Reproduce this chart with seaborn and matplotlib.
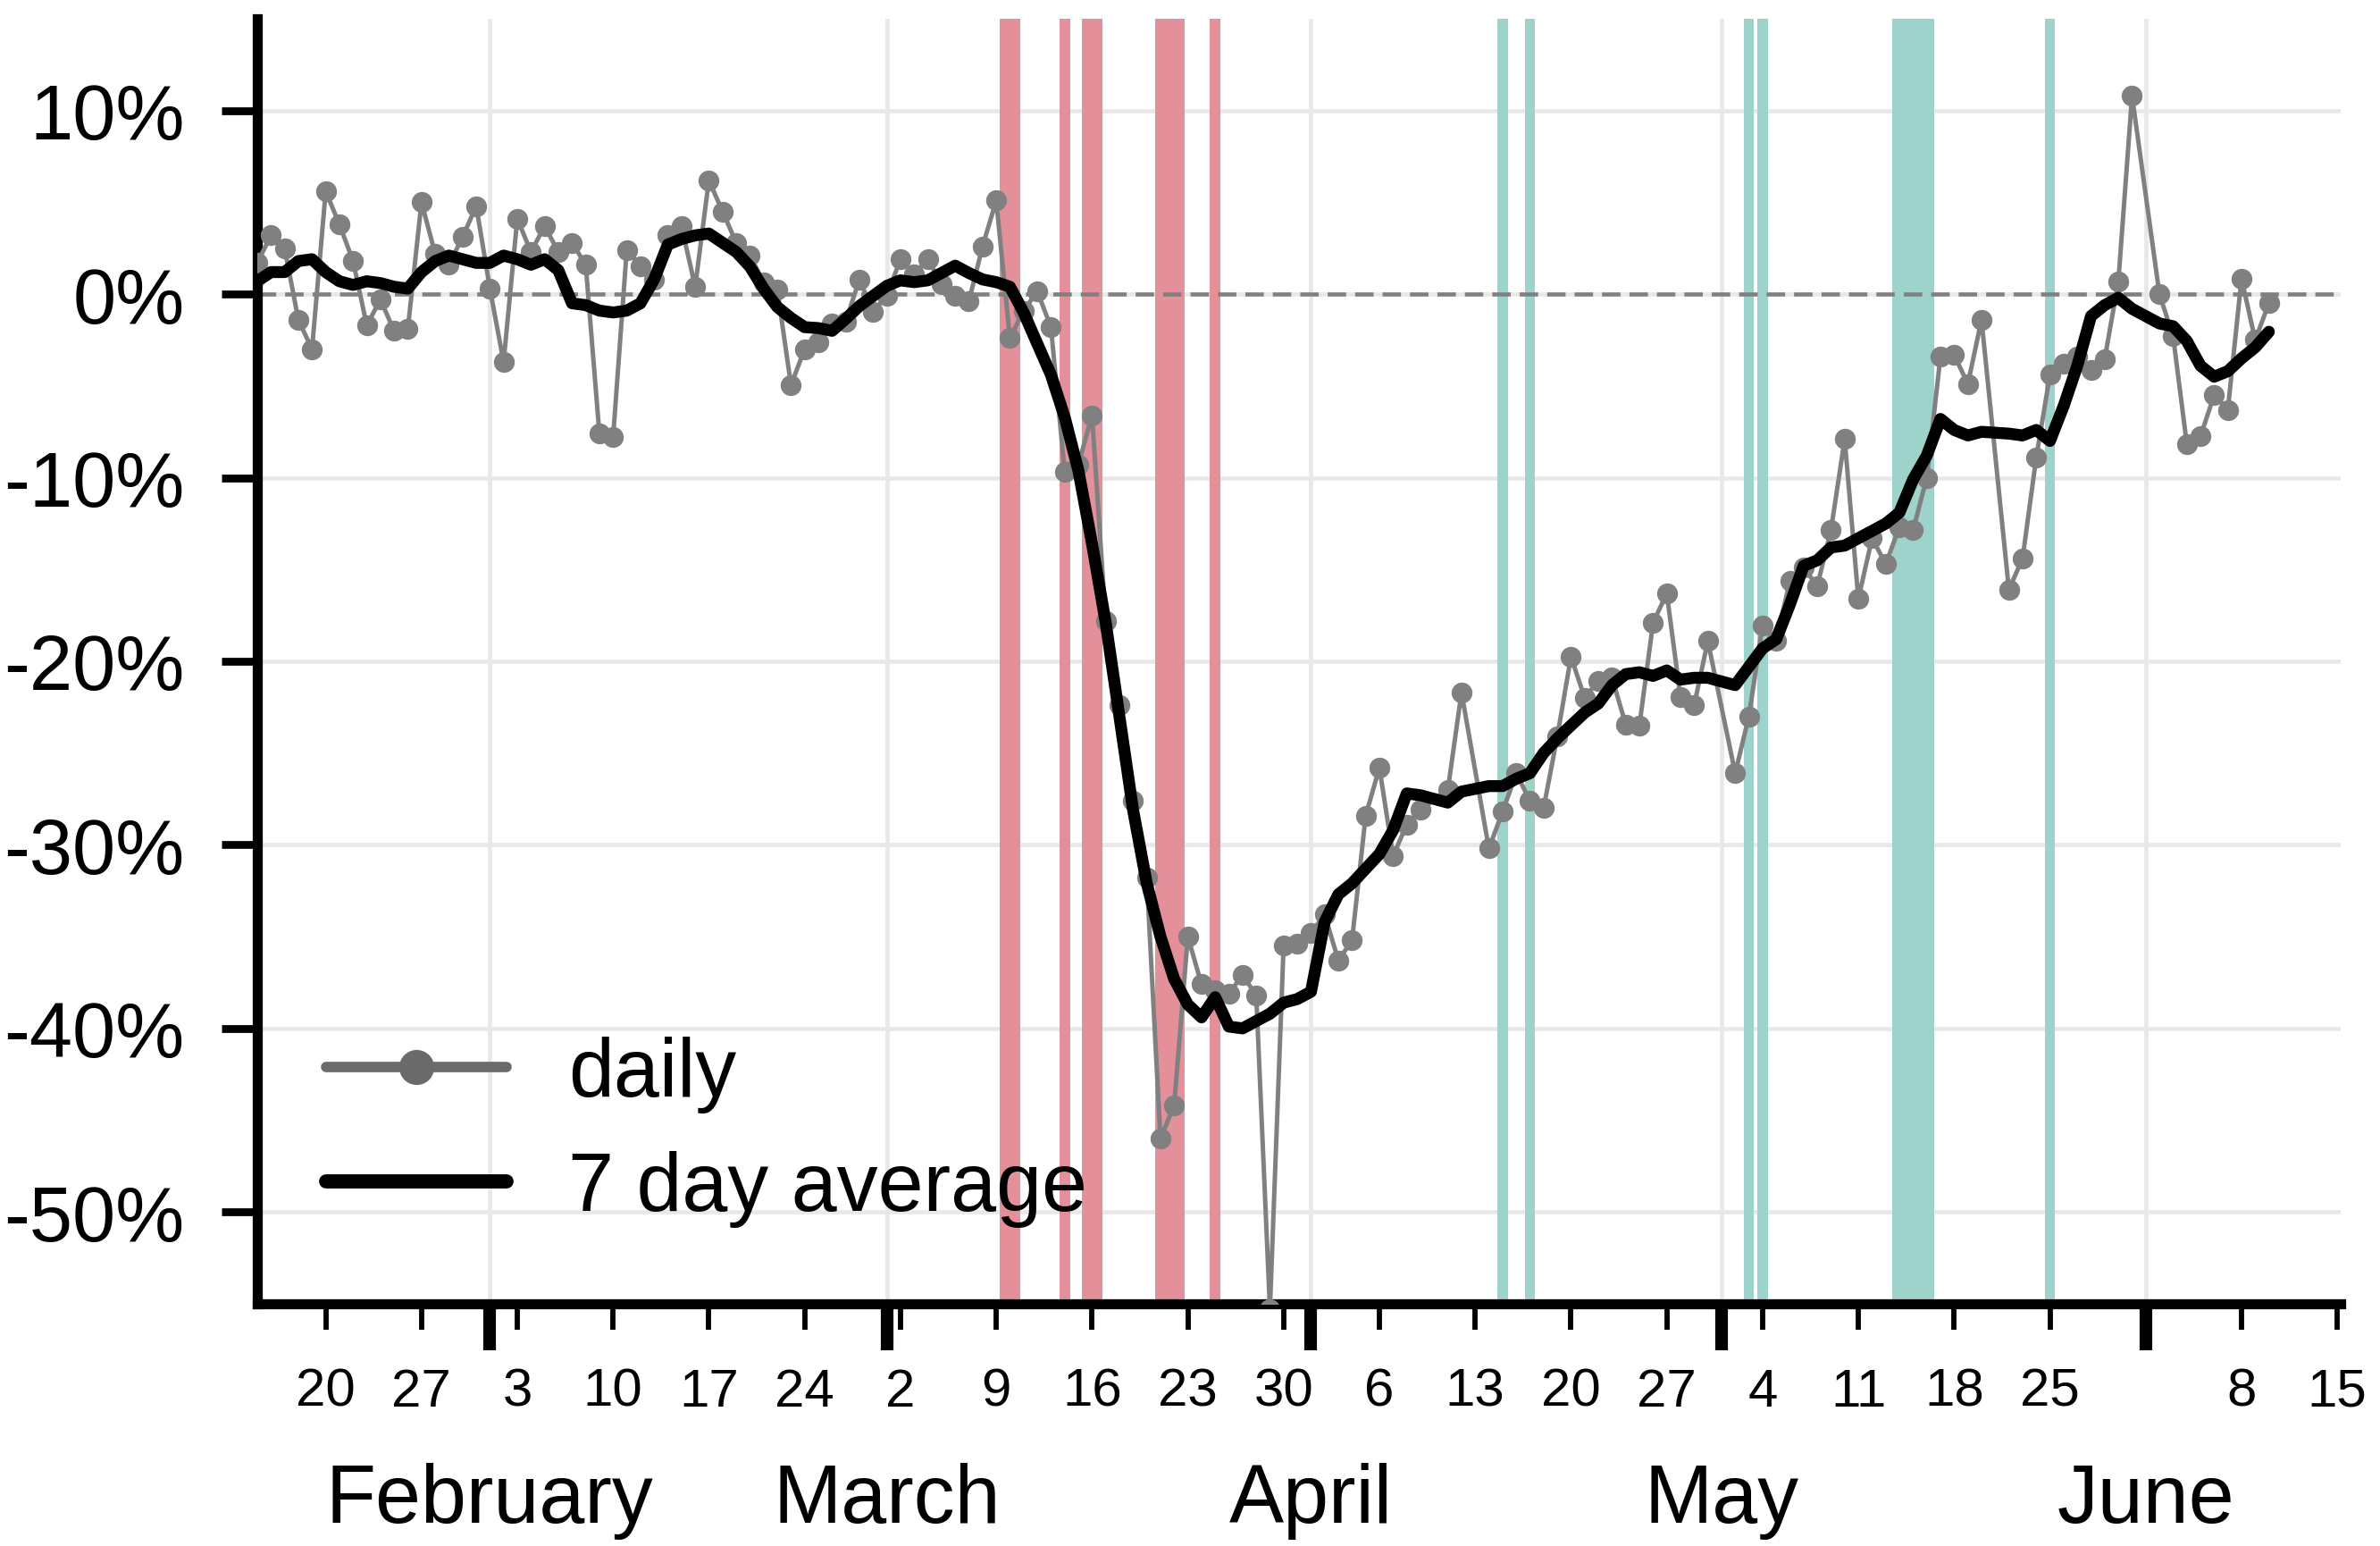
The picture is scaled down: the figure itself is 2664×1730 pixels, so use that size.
import matplotlib
matplotlib.use("Agg")
import numpy as np
import pandas as pd
import matplotlib.pyplot as plt
import matplotlib.dates as mdates
import matplotlib.ticker as mticker
from matplotlib.lines import Line2D
import seaborn as sns

# ---- data (percent change vs. baseline) ----
start_date = "2020-01-15"
end_date = "2020-06-10"
# days with no value (line goes straight across them)
missing_days = ["2020-04-10", "2020-04-13", "2020-05-01", "2020-05-21", "2020-06-01"]

daily_jan = [1.7, 3.2, 2.5, -1.4, -3.0, 5.6, 3.8, 1.8, -1.7, -0.3, -2.0, -1.9, 5.0, 2.2, 1.6, 3.1, 4.8]
daily_feb = [0.3, -3.7, 4.1, 2.3, 3.7, 2.3, 2.8, 1.6, -7.6, -7.8, 2.4, 1.5, 0.8, 3.2, 3.7, 0.4, 6.2,
             4.5, 2.8, 2.1, 0.65, 0.25, -4.95, -3.0, -2.6, -1.6, -1.5, 0.8, -0.95]
daily_mar = [-0.1, 1.9, 1.1, 1.9, 0.55, -0.1, -0.4, 2.6, 5.1, -2.4, -0.9, 0.15, -1.8, -9.7, -9.3,
             -6.6, -17.8, -22.4, -27.6, -31.8, -46.0, -44.2, -35.0, -37.6, -37.9, -38.1, -37.1,
             -38.2, -55.3, -35.5, -35.4]
daily_apr = [-34.8, -33.8, -36.3, -35.2, -28.4, -25.8, -30.6, -28.9, -28.1, -27.0, -21.7, -30.2,
             -28.2, -26.1, -27.6, -28.0, -24.1, -19.75, -22.0, -21.05, -20.9, -23.45, -23.5, -17.9,
             -16.3, -21.95, -22.4, -18.9]
daily_may = [-26.1, -23.0, -18.05, -18.9, -15.6, -14.9, -15.9, -12.85, -7.9, -16.6, -13.3, -14.7,
             -12.7, -12.85, -10.0, -3.4, -3.3, -4.9, -1.4, -16.1, -14.4, -8.9, -4.4, -3.8, -3.4,
             -4.15, -3.55, 0.7, 10.8]
daily_jun = [0.0, -2.3, -8.15, -7.75, -5.5, -6.3, 0.85, -2.5, -0.5]

avg_jan = [0.7, 1.2, 1.2, 1.8, 1.9, 1.2, 0.7, 0.5, 0.7, 0.6, 0.4, 0.3, 1.2, 1.8, 2.1, 1.9, 1.7]
avg_feb = [1.7, 2.1, 1.9, 1.6, 1.9, 1.3, -0.5, -0.6, -0.9, -1.0, -0.9, -0.5, 0.8, 2.7, 3.0, 3.2,
           3.3, 2.8, 2.3, 1.5, 0.3, -0.7, -1.3, -1.8, -1.85, -2.0, -1.35, -0.65, -0.1]
avg_mar = [0.45, 0.75, 0.65, 0.75, 1.15, 1.55, 1.15, 0.8, 0.65, 0.4, -1.0, -2.7, -4.4, -6.7, -9.6,
           -13.6, -17.9, -23.0, -28.1, -32.1, -35.0, -37.3, -38.7, -39.4, -38.3, -39.9, -40.0,
           -39.6, -39.2, -38.6, -38.4]
avg_apr = [-38.0, -34.2, -32.7, -32.1, -31.3, -30.5, -29.2, -27.2, -27.3, -27.7, -27.1, -26.8,
           -26.8, -26.4, -26.1, -25.0, -24.2, -23.5, -22.8, -22.3, -21.3, -20.7, -20.6, -20.8,
           -20.5, -21.0, -20.9, -20.9]
avg_may = [-21.3, -20.3, -19.3, -18.8, -16.9, -14.8, -14.5, -13.8, -13.7, -13.3, -12.9, -12.5,
           -11.9, -10.1, -8.8, -6.8, -7.4, -7.7, -7.5, -7.6, -7.7, -7.4, -8.0, -6.1, -3.9, -1.2,
           -0.6, -0.2, -0.8]
avg_jun = [-1.6, -1.75, -2.55, -3.9, -4.5, -4.2, -3.5, -2.9, -2.05]

# measures: (date, number of measures that day)
closing_events = [("2020-03-10", 2), ("2020-03-14", 1), ("2020-03-16", 2),
                  ("2020-03-21", 1), ("2020-03-22", 2), ("2020-03-25", 1)]
opening_events = [("2020-04-15", 1), ("2020-04-17", 1), ("2020-05-03", 1),
                  ("2020-05-04", 1), ("2020-05-15", 4), ("2020-05-25", 1)]

y_ticks = [-50, -40, -30, -20, -10, 0, 10]

# ---- build table ----
dates = pd.date_range(start_date, end_date, freq="D")
dates = dates[~dates.isin(pd.to_datetime(missing_days))]
df = pd.DataFrame({
    "date": dates,
    "daily": daily_jan + daily_feb + daily_mar + daily_apr + daily_may + daily_jun,
    "avg": avg_jan + avg_feb + avg_mar + avg_apr + avg_may + avg_jun,
})

# ---- style ----
sns.set_style("ticks")
plt.rcParams["font.family"] = ["Liberation Sans", "DejaVu Sans"]
plt.rcParams["axes.unicode_minus"] = False
plt.rcParams["text.color"] = "black"
plt.rcParams["axes.edgecolor"] = "black"
plt.rcParams["xtick.color"] = "black"
plt.rcParams["ytick.color"] = "black"

RED = "#E3909A"
TEAL = "#9DD3CA"
GRID = "#E8E8E8"
SPAN_W = 0.76  # days per measure

fig = plt.figure(figsize=(8.88, 5.77), dpi=300)
ax = fig.add_axes([0.1081, 0.1566, 0.8754, 0.8307])

ax.grid(axis="both", which="major", color=GRID, lw=1.1, zorder=0)
ax.set_axisbelow(True)

for events, col in [(closing_events, RED), (opening_events, TEAL)]:
    for d, n in events:
        c = mdates.date2num(pd.Timestamp(d))
        ax.axvspan(c - n * SPAN_W / 2, c + n * SPAN_W / 2, color=col, lw=0, zorder=1)

ax.axhline(0, color="gray", lw=1.1, ls=(0, (4.5, 2.2)), zorder=2)

sns.lineplot(data=df, x="date", y="daily", ax=ax, color="gray", lw=1.2,
             marker="o", markersize=5.6, markeredgewidth=0, zorder=3)
sns.lineplot(data=df, x="date", y="avg", ax=ax, color="black", lw=3.2, zorder=4)

ax.set_xlim(pd.Timestamp("2020-01-15"), pd.Timestamp("2020-06-15 06:00"))
ax.set_ylim(-55, 15)
ax.set_xlabel("")
ax.set_ylabel("")

ax.set_yticks(y_ticks)
ax.set_yticklabels([f"{v}%" for v in y_ticks])

ax.xaxis.set_major_locator(mdates.MonthLocator())
ax.xaxis.set_major_formatter(mdates.DateFormatter("%B"))
ax.xaxis.set_minor_locator(mdates.WeekdayLocator(byweekday=mdates.MO))
ax.xaxis.set_minor_formatter(mticker.FuncFormatter(lambda x, pos: str(mdates.num2date(x).day)))

ax.tick_params(axis="x", which="major", length=12.5, width=3.4, pad=30, labelsize=22)
ax.tick_params(axis="x", which="minor", length=7, width=1.4, pad=10, labelsize=14.4)
ax.tick_params(axis="y", which="major", length=9.5, width=2.1, pad=10, labelsize=20.8)

sns.despine(ax=ax)
for s in ["left", "bottom"]:
    ax.spines[s].set_linewidth(2.7)

handles = [Line2D([], [], color="#6A6A6A", lw=2.8, marker="o", markersize=8.4),
           Line2D([], [], color="black", lw=3.8)]
ax.legend(handles, ["daily", "7 day average"], loc="lower left", bbox_to_anchor=(0.033, 0.06),
          frameon=False, fontsize=22, handlelength=2.2, handletextpad=0.76,
          labelspacing=0.45, borderpad=0, borderaxespad=0)

fig.savefig("out.png", dpi=300)
